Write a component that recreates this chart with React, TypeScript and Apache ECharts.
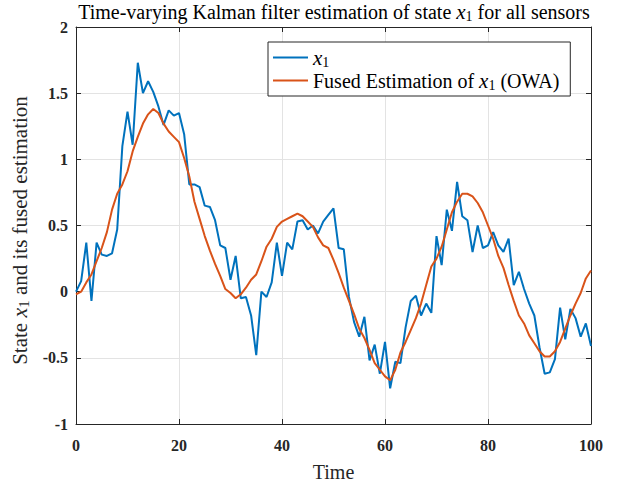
import React, { useEffect, useRef } from "react";
import * as echarts from "echarts";

const timeSteps: number[] = Array.from({ length: 101 }, (_, i) => i);

const stateX1: number[] = [
  0.0, 0.08, 0.37, -0.07, 0.37, 0.28, 0.27, 0.29, 0.47, 1.10,
  1.36, 1.11, 1.73, 1.50, 1.59, 1.51, 1.40, 1.26, 1.37, 1.33,
  1.35, 1.19, 0.81, 0.81, 0.79, 0.65, 0.64, 0.54, 0.35, 0.33,
  0.09, 0.27, -0.05, -0.04, -0.18, -0.48, 0.0, -0.04, 0.07, 0.37,
  0.12, 0.37, 0.32, 0.53, 0.54, 0.47, 0.50, 0.44, 0.53, 0.58,
  0.63, 0.33, 0.32, -0.04, -0.23, -0.34, -0.19, -0.52, -0.40, -0.62,
  -0.38, -0.73, -0.53, -0.54, -0.27, -0.07, -0.03, -0.18, -0.09, -0.16,
  0.42, 0.20, 0.62, 0.46, 0.83, 0.57, 0.54, 0.30, 0.50, 0.33,
  0.35, 0.45, 0.35, 0.30, 0.40, 0.05, 0.15, 0.02, -0.09, -0.18,
  -0.42, -0.62, -0.61, -0.51, -0.12, -0.36, -0.13, -0.20, -0.34, -0.24,
  -0.41,
];

const fusedOWA: number[] = [
  -0.02, 0.0, 0.07, 0.13, 0.23, 0.33, 0.45, 0.62, 0.74, 0.81,
  0.91, 1.06, 1.17, 1.27, 1.34, 1.38, 1.35, 1.27, 1.21, 1.17,
  1.13, 1.01, 0.87, 0.68, 0.55, 0.42, 0.31, 0.21, 0.12, 0.02,
  -0.01, -0.05, -0.02, 0.03, 0.09, 0.13, 0.23, 0.34, 0.40, 0.49,
  0.53, 0.55, 0.57, 0.59, 0.57, 0.53, 0.49, 0.41, 0.35, 0.33,
  0.24, 0.14, 0.03, -0.07, -0.17, -0.28, -0.35, -0.44, -0.54, -0.59,
  -0.64, -0.67, -0.59, -0.46, -0.38, -0.29, -0.20, -0.09, 0.05, 0.19,
  0.25, 0.34, 0.47, 0.60, 0.68, 0.74, 0.74, 0.72, 0.67, 0.60,
  0.50, 0.40, 0.27, 0.18, 0.05, -0.07, -0.18, -0.24, -0.33, -0.39,
  -0.45, -0.49, -0.49, -0.45, -0.38, -0.28, -0.18, -0.09, -0.01, 0.10,
  0.16,
];

const seriesNames = ["x1", "fused"];
const legendLabels: Record<string, string> = {
  x1: "{i|x}{s|1}",
  fused: "Fused Estimation of {i|x}{s|1} (OWA)",
};
const titleText = "Time-varying Kalman filter estimation of state {i|x}{s|1} for all sensors";
const xAxisTitle = "Time";
const yAxisTitle = "State {i|x}{s|1} and its fused estimation";

const SERIF = "'Liberation Serif', 'Times New Roman', serif";
const AXIS_COLOR = "#262626";

function richFor(size: number, color: string) {
  return {
    i: { fontFamily: SERIF, fontStyle: "italic", fontSize: size + 1, color },
    s: { fontFamily: SERIF, fontSize: Math.round(size * 0.7), color, padding: [9, 0, 0, 0] },
  };
}

export default function App() {
  const ref = useRef<HTMLDivElement>(null);
  useEffect(() => {
    if (!ref.current) return;
    const chart = echarts.init(ref.current, undefined, { renderer: "svg" });
    const valueAxisCommon = {
      axisLine: { show: true, onZero: false, lineStyle: { color: AXIS_COLOR, width: 1 } },
      axisTick: { show: true, inside: true, length: 5, lineStyle: { color: AXIS_COLOR } },
    };
    chart.setOption({
      animation: false,
      backgroundColor: "#ffffff",
      title: {
        text: titleText,
        left: 334,
        textAlign: "center",
        top: 0,
        padding: [0, 0, 0, 0],
        textStyle: {
          fontFamily: SERIF,
          fontWeight: "normal",
          fontSize: 20,
          color: "#000",
          rich: richFor(20, "#000"),
        },
      },
      legend: {
        left: 268,
        top: 42,
        orient: "vertical",
        padding: [4, 11, 4, 5],
        itemGap: 0,
        itemWidth: 35,
        itemHeight: 2,
        icon: "rect",
        borderColor: AXIS_COLOR,
        borderWidth: 1,
        backgroundColor: "#ffffff",
        data: seriesNames,
        formatter: (name: string) => legendLabels[name],
        textStyle: {
          fontFamily: SERIF,
          fontSize: 20,
          color: "#000",
          lineHeight: 22,
          rich: {
            i: { fontFamily: SERIF, fontStyle: "italic", fontSize: 21, color: "#000", lineHeight: 22 },
            s: { fontFamily: SERIF, fontSize: 14, color: "#000", padding: [9, 0, 0, 0], lineHeight: 22 },
          },
        },
      },
      grid: { left: 76, top: 27, right: 37, bottom: 54, containLabel: false },
      xAxis: [
        {
          type: "value",
          min: 0,
          max: 100,
          interval: 20,
          ...valueAxisCommon,
          splitLine: { show: true, lineStyle: { color: "#e3e3e3", width: 1 } },
          axisLabel: {
            fontFamily: SERIF,
            fontWeight: "bold",
            fontSize: 16,
            color: AXIS_COLOR,
            margin: 13,
          },
          name: xAxisTitle,
          nameLocation: "middle",
          nameGap: 38,
          nameTextStyle: { fontFamily: SERIF, fontSize: 20, color: AXIS_COLOR },
        },
        {
          type: "value",
          position: "top",
          min: 0,
          max: 100,
          interval: 20,
          ...valueAxisCommon,
          splitLine: { show: false },
          axisLabel: { show: false },
        },
      ],
      yAxis: [
        {
          type: "value",
          min: -1,
          max: 2,
          interval: 0.5,
          ...valueAxisCommon,
          splitLine: { show: true, lineStyle: { color: "#e3e3e3", width: 1 } },
          axisLabel: {
            fontFamily: SERIF,
            fontWeight: "bold",
            fontSize: 16,
            color: AXIS_COLOR,
            margin: 8,
          },
          name: yAxisTitle,
          nameLocation: "middle",
          nameRotate: 90,
          nameGap: 42,
          nameTextStyle: {
            fontFamily: SERIF,
            fontSize: 21,
            color: AXIS_COLOR,
            padding: [0, 10, 0, 0],
            rich: richFor(21, AXIS_COLOR),
          },
        },
        {
          type: "value",
          position: "right",
          min: -1,
          max: 2,
          interval: 0.5,
          ...valueAxisCommon,
          splitLine: { show: false },
          axisLabel: { show: false },
        },
      ],
      series: [
        {
          name: seriesNames[0],
          type: "line",
          xAxisIndex: 0,
          yAxisIndex: 0,
          data: timeSteps.map((t, i) => [t, stateX1[i]]),
          showSymbol: false,
          symbol: "none",
          color: "#0072BD",
          lineStyle: { width: 2, color: "#0072BD" },
          z: 2,
        },
        {
          name: seriesNames[1],
          type: "line",
          xAxisIndex: 0,
          yAxisIndex: 0,
          data: timeSteps.map((t, i) => [t, fusedOWA[i]]),
          showSymbol: false,
          symbol: "none",
          color: "#D95319",
          lineStyle: { width: 2, color: "#D95319" },
          z: 3,
        },
      ],
    });
    return () => chart.dispose();
  }, []);
  return (
    <div
      ref={ref}
      style={{ position: "fixed", left: 0, top: 0, width: 628, height: 487, background: "#fff" }}
    />
  );
}
